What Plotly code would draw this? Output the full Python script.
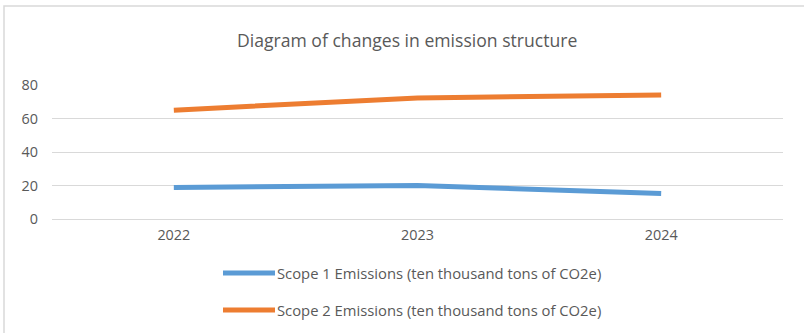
import plotly.graph_objects as go

years = ["2022", "2023", "2024"]
scope1 = [18.8, 20.0, 15.2]
scope2 = [65.0, 72.3, 74.0]
series_names = [
    "Scope 1 Emissions (ten thousand tons of CO2e)",
    "Scope 2 Emissions (ten thousand tons of CO2e)",
]
colors = ["#5B9BD5", "#ED7D31"]
title = "Diagram of changes in emission structure"

W, H = 804, 333
L, R, T, B = 52, 21, 85, 114
pw, ph = W - L - R, H - T - B
FONT = "Open Sans"

def px(x):
    return (x - L) / pw

def py(y):
    return (H - B - y) / ph

fig = go.Figure()
for name, vals, c in zip(series_names, [scope1, scope2], colors):
    fig.add_trace(go.Scatter(x=years, y=vals, mode="lines", name=name,
                             line=dict(color=c, width=5), showlegend=False))

shapes = [
    dict(type="rect", xref="paper", yref="paper", x0=px(4), x1=px(830), y0=py(6), y1=py(360),
         line=dict(color="#D9D9D9", width=1.5), fillcolor="rgba(0,0,0,0)", layer="below"),
]
annotations = [
    dict(text=title, xref="paper", yref="paper", x=px(407), y=py(40), showarrow=False,
         xanchor="center", yanchor="middle", font=dict(family=FONT, size=17.6, color="#595959")),
]
leg_y = [273, 310]
for name, c, yy in zip(series_names, colors, leg_y):
    shapes.append(dict(type="line", xref="paper", yref="paper", x0=px(223), x1=px(275),
                       y0=py(yy), y1=py(yy), line=dict(color=c, width=5)))
    annotations.append(dict(text=name, xref="paper", yref="paper", x=px(275), y=py(yy),
                            showarrow=False, xanchor="left", yanchor="middle",
                            font=dict(family=FONT, size=14.8, color="#595959")))

fig.update_layout(
    width=W, height=H,
    margin=dict(l=L, r=R, t=T, b=B),
    paper_bgcolor="white", plot_bgcolor="white",
    shapes=shapes, annotations=annotations,
    xaxis=dict(type="category", showgrid=False, showline=False, zeroline=False,
               ticks="", ticklabelstandoff=6,
               tickfont=dict(family=FONT, size=14.4, color="#595959"),
               range=[-0.5, 2.5], fixedrange=True),
    yaxis=dict(range=[0, 80], dtick=20, showgrid=True, gridcolor="#D9D9D9", gridwidth=1,
               zeroline=True, zerolinecolor="#D9D9D9", zerolinewidth=1, showline=False,
               ticks="", ticklabelstandoff=13,
               tickfont=dict(family=FONT, size=14.4, color="#595959"), fixedrange=True),
    showlegend=False,
)

fig.write_html("out.html")
